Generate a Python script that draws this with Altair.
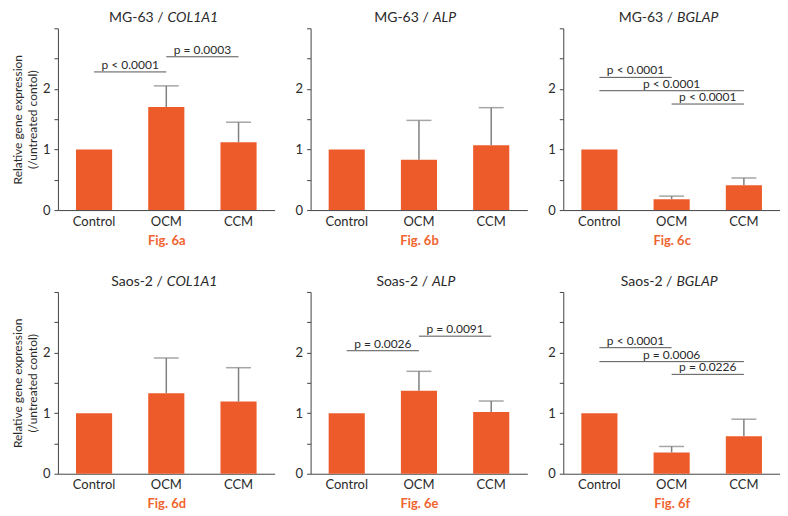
import altair as alt
import pandas as pd

# ---------------- data ----------------
groups = ["Control", "OCM", "CCM"]
fig_labels = ["Fig. 6a", "Fig. 6b", "Fig. 6c", "Fig. 6d", "Fig. 6e", "Fig. 6f"]
cell_lines = ["MG-63", "MG-63", "MG-63", "Saos-2", "Soas-2", "Saos-2"]
genes = ["COL1A1", "ALP", "BGLAP", "COL1A1", "ALP", "BGLAP"]

means = [
    [1.00, 1.70, 1.12],
    [1.00, 0.83, 1.07],
    [1.00, 0.18, 0.41],
    [1.00, 1.33, 1.19],
    [1.00, 1.37, 1.02],
    [1.00, 0.35, 0.62],
]
errors = [
    [0.00, 0.35, 0.33],
    [0.00, 0.65, 0.62],
    [0.00, 0.05, 0.12],
    [0.00, 0.58, 0.56],
    [0.00, 0.32, 0.18],
    [0.00, 0.10, 0.28],
]

sig_panel = [0, 0, 2, 2, 2, 4, 4, 5, 5, 5]
sig_from = ["Control", "OCM", "Control", "Control", "OCM", "Control", "OCM", "Control", "Control", "OCM"]
sig_to = ["OCM", "CCM", "OCM", "CCM", "CCM", "OCM", "CCM", "OCM", "CCM", "CCM"]
sig_level = [2.28, 2.53, 2.19, 1.97, 1.75, 2.03, 2.27, 2.08, 1.85, 1.64]
sig_text = ["p < 0.0001", "p = 0.0003", "p < 0.0001", "p < 0.0001", "p < 0.0001",
            "p = 0.0026", "p = 0.0091", "p < 0.0001", "p = 0.0006", "p = 0.0226"]

# ---------------- style ----------------
FONT = "Lato"
BAR = "#EE5B2A"
FIGC = "#F0642F"
ERR = "#808080"
AXC = "#444444"
TXT = "#2a2a2a"
W, H = 217, 182
STEP = W / 3.0
TITLE_SIZE = 14

WID = {'M': .80, 'G': .71, '-': .36, '6': .58, '3': .58, ' ': .19, '/': .38, 'S': .52,
       'a': .49, 'o': .56, 's': .41, '2': .58, 'C': .66, 'O': .76, 'L': .47, '1': .58,
       'A': .67, 'P': .57, 'B': .62}


def text_width(s, size):
    return sum(WID.get(c, .55) for c in s) * size * 0.89


def panel(i):
    df = pd.DataFrame({"group": groups, "mean": means[i], "err": errors[i]})
    df["top"] = df["mean"] + df["err"]
    errdf = df[df["err"] > 0]

    first_col = (i % 3 == 0)
    ytitle = ["Relative gene expression", "(/untreated contol)"] if first_col else None

    xscale = alt.Scale(domain=groups, paddingInner=0.5, paddingOuter=0.25)
    xaxis = alt.Axis(labelAngle=0, ticks=False, domainColor=AXC, labelColor=TXT,
                     labelFontSize=13, labelPadding=5, titleColor=FIGC,
                     titleFontWeight="bold", titleFontSize=13, titlePadding=6,
                     labelFont=FONT, titleFont=FONT)
    yscale = alt.Scale(domain=[0, 3], nice=False, zero=True)
    yaxis = alt.Axis(values=[0, 0.5, 1, 1.5, 2, 2.5, 3],
                     labelExpr="(datum.value == 0 || datum.value == 1 || datum.value == 2) ? format(datum.value, 'd') : ''",
                     grid=False, domainColor=AXC, tickColor=AXC, tickSize=4,
                     labelFontSize=13, labelColor=TXT, labelPadding=4,
                     titleFontSize=12, titleFontWeight="normal", titleColor=TXT,
                     titleX=-33, titleY=H / 2, titleLineHeight=15,
                     labelFont=FONT, titleFont=FONT)

    def X(field, **kw):
        return alt.X(field + ":N", scale=xscale, axis=xaxis, title=fig_labels[i], **kw)

    def Y(field):
        return alt.Y(field + ":Q", scale=yscale, axis=yaxis, title=ytitle)

    bars = alt.Chart(df).mark_bar(color=BAR).encode(x=X("group"), y=Y("mean"))
    err_rule = alt.Chart(errdf).mark_rule(color=ERR, strokeWidth=1.5).encode(
        x=X("group"), y=Y("mean"), y2="top:Q")
    err_cap = alt.Chart(errdf).mark_tick(color=ERR, size=25, thickness=1.5).encode(
        x=X("group"), y=Y("top"))

    layers = [bars, err_rule, err_cap]

    idx = [k for k, p in enumerate(sig_panel) if p == i]
    if idx:
        sdf = pd.DataFrame({
            "from": [sig_from[k] for k in idx],
            "to": [sig_to[k] for k in idx],
            "level": [sig_level[k] for k in idx],
            "label": [sig_text[k] for k in idx],
            "span": [groups.index(sig_to[k]) - groups.index(sig_from[k]) for k in idx],
        })
        rules = alt.Chart(sdf).mark_rule(color="#555555", strokeWidth=1).encode(
            x=X("from", bandPosition=0.5),
            x2=alt.X2("to", bandPosition=0.5),
            y=Y("level"))
        layers.append(rules)
        for span in [1, 2]:
            sub = sdf[sdf["span"] == span]
            if len(sub):
                txt = alt.Chart(sub).mark_text(
                    baseline="alphabetic", align="center", dy=-3, dx=span * STEP / 2,
                    fontSize=12, font=FONT, color=TXT).encode(
                    x=X("from", bandPosition=0.5), y=Y("level"), text="label:N")
                layers.append(txt)

    # panel heading: cell line (regular) + gene (italic)
    cell_txt = cell_lines[i] + " /"
    gene_txt = genes[i]
    wc = text_width(cell_txt, TITLE_SIZE)
    wg = text_width(gene_txt, TITLE_SIZE)
    gap = 4
    start = W / 2 - (wc + gap + wg) / 2
    tdf = pd.DataFrame({"cell": [cell_txt], "gene": [gene_txt]})
    t1 = alt.Chart(tdf).mark_text(align="right", baseline="alphabetic", fontSize=TITLE_SIZE,
                                  font=FONT, color=TXT).encode(
        x=alt.value(start + wc), y=alt.value(-6), text="cell:N")
    t2 = alt.Chart(tdf).mark_text(align="left", baseline="alphabetic", fontSize=TITLE_SIZE,
                                  font=FONT, fontStyle="italic", color=TXT).encode(
        x=alt.value(start + wc + gap), y=alt.value(-6), text="gene:N")
    layers += [t1, t2]

    return alt.layer(*layers).properties(width=W, height=H)


row1 = alt.hconcat(panel(0), panel(1), panel(2), spacing=20)
row2 = alt.hconcat(panel(3), panel(4), panel(5), spacing=20)
chart = alt.vconcat(row1, row2, spacing=28).properties(
    padding={"left": 4, "top": 3, "right": 0, "bottom": 0},
    background="white",
).configure_view(stroke=None)

chart.save("out.html", embed_options={"renderer": "svg", "actions": False})
